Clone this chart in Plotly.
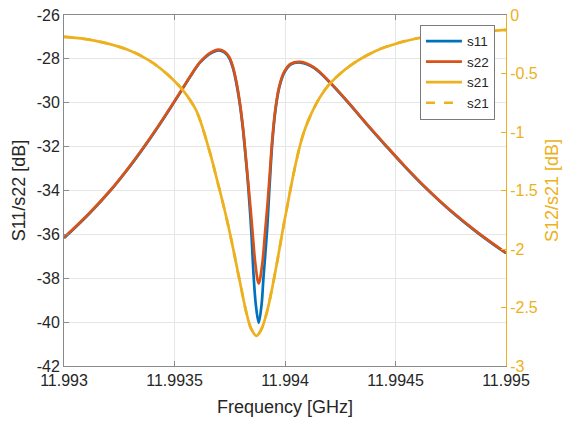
import plotly.graph_objects as go

# ---- data ----
f_s22 = [11.993000, 11.993113, 11.993209, 11.993283, 11.993358, 11.993426, 11.993494,
         11.993535, 11.993571, 11.993617, 11.993658, 11.993700, 11.993726, 11.993748,
         11.993766, 11.993782, 11.993796, 11.993810, 11.993821, 11.993832, 11.993844,
         11.993854, 11.993866, 11.993881, 11.993897, 11.993909, 11.993921, 11.993932,
         11.993943, 11.993957, 11.993973, 11.993995, 11.994025, 11.994070, 11.994131,
         11.994203, 11.994282, 11.994367, 11.994456, 11.994542, 11.994628, 11.994755,
         11.994873, 11.995000]
s22 = [-36.15, -35.05, -34.00, -33.08, -32.06, -31.07, -30.02,
       -29.37, -28.79, -28.13, -27.75, -27.58, -27.67, -27.92,
       -28.42, -29.15, -30.01, -31.15, -32.29, -33.50, -34.80,
       -36.00, -37.35, -38.24, -37.35, -36.00, -34.60, -33.10,
       -31.60, -30.25, -29.30, -28.62, -28.23, -28.14, -28.39,
       -29.06, -29.93, -30.93, -31.94, -32.89, -33.78, -34.96,
       -35.92, -36.84]

f_s11 = [11.993000, 11.993113, 11.993209, 11.993283, 11.993358, 11.993426, 11.993494,
         11.993535, 11.993571, 11.993617, 11.993658, 11.993700, 11.993726, 11.993748,
         11.993766, 11.993782, 11.993796, 11.993810, 11.993821, 11.993832, 11.993847,
         11.993859, 11.993868, 11.993881, 11.993894, 11.993902, 11.993919, 11.993930,
         11.993943, 11.993957, 11.993973, 11.993995, 11.994025, 11.994070, 11.994131,
         11.994203, 11.994282, 11.994367, 11.994456, 11.994542, 11.994628, 11.994755,
         11.994873, 11.995000]
s11 = [-36.17, -35.07, -34.02, -33.10, -32.08, -31.09, -30.04,
       -29.39, -28.81, -28.15, -27.78, -27.61, -27.71, -27.97,
       -28.48, -29.22, -30.09, -31.22, -32.38, -33.60, -35.79,
       -38.06, -39.20, -40.03, -39.20, -38.06, -35.79, -33.82,
       -31.75, -30.32, -29.35, -28.66, -28.26, -28.17, -28.41,
       -29.08, -29.95, -30.95, -31.96, -32.91, -33.80, -34.98,
       -35.94, -36.86]

f_s21 = [11.993000, 11.993132, 11.993286, 11.993381, 11.993435, 11.993494, 11.993535,
         11.993571, 11.993599, 11.993621, 11.993644, 11.993667, 11.993689, 11.993712,
         11.993735, 11.993757, 11.993780, 11.993803, 11.993825, 11.993848, 11.993871,
         11.993893, 11.993919, 11.993939, 11.993965, 11.993986, 11.994014, 11.994039,
         11.994063, 11.994084, 11.994108, 11.994131, 11.994161, 11.994197, 11.994252,
         11.994297, 11.994365, 11.994448, 11.994600, 11.994796, 11.995000]
s21 = [-0.1875, -0.2165, -0.2947, -0.3829, -0.4549, -0.5537, -0.6365,
       -0.7285, -0.8185, -0.9285, -1.0685, -1.2213, -1.3833, -1.5537,
       -1.7327, -1.9202, -2.1333, -2.3464, -2.5424, -2.6873, -2.7420,
       -2.6864, -2.5325, -2.3605, -2.1040, -1.8785, -1.5965, -1.3545,
       -1.1531, -1.0100, -0.8900, -0.7950, -0.6950, -0.6000, -0.4969,
       -0.4300, -0.3500, -0.2778, -0.1986, -0.1560, -0.1278]

x_ticks = [11.993, 11.9935, 11.994, 11.9945, 11.995]
x_labels = ["11.993", "11.9935", "11.994", "11.9945", "11.995"]
yl_ticks = [-42, -40, -38, -36, -34, -32, -30, -28, -26]
yr_ticks = [-3, -2.5, -2, -1.5, -1, -0.5, 0]
yr_labels = ["-3", "-2.5", "-2", "-1.5", "-1", "-0.5", "0"]

BLUE, ORANGE, YELLOW = "#0072BD", "#D95319", "#EDB120"
AX = "#8a8a8a"
TXT = "#262626"
LW = 2.7

fig = go.Figure()
fig.add_trace(go.Scatter(x=f_s11, y=s11, name="s11", mode="lines",
                         line=dict(color=BLUE, width=LW, shape="spline", smoothing=1.0)))
fig.add_trace(go.Scatter(x=f_s22, y=s22, name="s22", mode="lines",
                         line=dict(color=ORANGE, width=LW, shape="spline", smoothing=1.0)))
fig.add_trace(go.Scatter(x=f_s21, y=s21, name="s21", mode="lines", yaxis="y2",
                         line=dict(color=YELLOW, width=LW, shape="spline", smoothing=1.0)))
fig.add_trace(go.Scatter(x=f_s21, y=s21, name="s21", mode="lines", yaxis="y2",
                         line=dict(color=YELLOW, width=LW, dash="dash", shape="spline", smoothing=1.0)))

fig.update_layout(
    width=564, height=422,
    margin=dict(l=64, r=58, t=15, b=56, autoexpand=False),
    plot_bgcolor="white", paper_bgcolor="white",
    font=dict(family="Liberation Sans, Arial, sans-serif", size=16, color=TXT),
    showlegend=True,
    legend=dict(x=0.975, y=0.972, xanchor="right", yanchor="top",
                bgcolor="white", bordercolor="#7a7a7a", borderwidth=1,
                font=dict(size=13.5, color=TXT), tracegroupgap=0, itemwidth=36),
    xaxis=dict(range=[11.993, 11.995], tickvals=x_ticks, ticktext=x_labels,
               automargin=False,
               showgrid=True, gridcolor="#e6e6e6", gridwidth=1, zeroline=False,
               showline=True, linecolor=AX, linewidth=1, mirror="ticks",
               ticks="inside", ticklen=5, tickcolor=AX,
               tickfont=dict(size=16, color=TXT),
               title=dict(text="Frequency [GHz]", font=dict(size=18, color=TXT), standoff=12)),
    yaxis=dict(range=[-42, -26], tickvals=yl_ticks, ticktext=[str(v) for v in yl_ticks],
               automargin=False,
               showgrid=True, gridcolor="#e6e6e6", gridwidth=1, zeroline=False,
               showline=True, linecolor=AX, linewidth=1,
               ticks="inside", ticklen=5, tickcolor=AX,
               tickfont=dict(size=16, color=TXT),
               title=dict(text="S11/s22 [dB]", font=dict(size=18, color=TXT), standoff=6)),
    yaxis2=dict(range=[-3, 0], overlaying="y", side="right", tickvals=yr_ticks,
                ticktext=yr_labels, automargin=False,
                showgrid=False, zeroline=False,
                showline=True, linecolor=YELLOW, linewidth=1,
                ticks="inside", ticklen=5, tickcolor=YELLOW,
                tickfont=dict(size=16, color=YELLOW),
                title=dict(text="S12/s21 [dB]", font=dict(size=18, color=YELLOW), standoff=8)),
)

fig.write_html("out.html")
